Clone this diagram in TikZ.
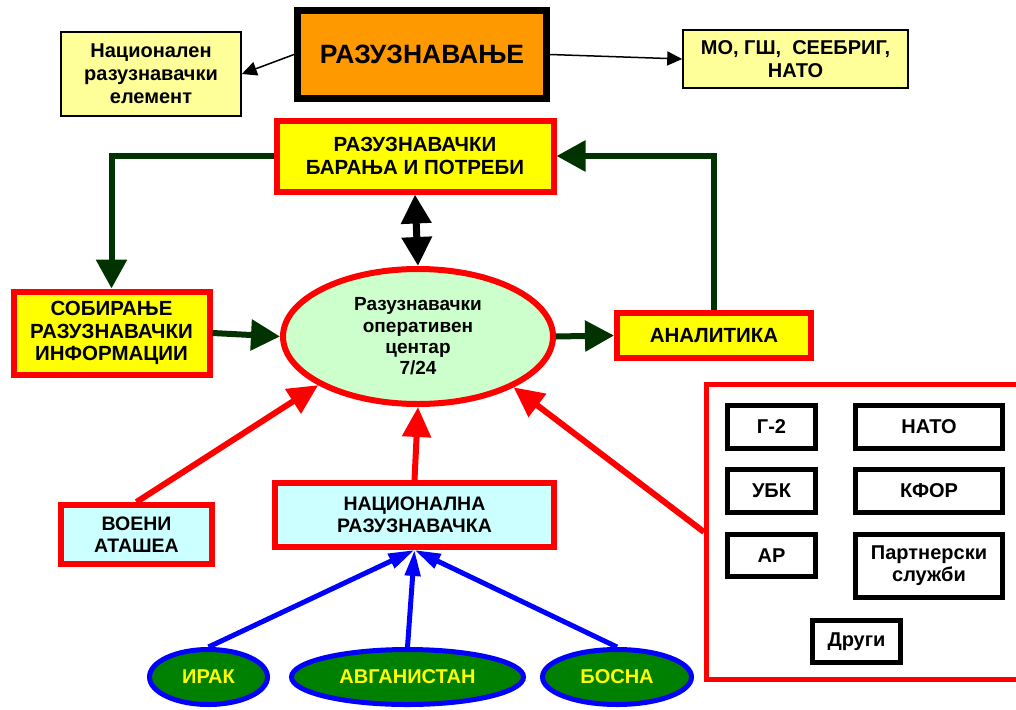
\documentclass[tikz,border=0pt]{standalone}
\usepackage{fontspec}
\setmainfont{Liberation Sans}
\usetikzlibrary{arrows.meta,shapes.geometric}
\definecolor{orng}{HTML}{FF9900}
\definecolor{lyel}{HTML}{FFFF99}
\definecolor{yel}{HTML}{FFFF00}
\definecolor{rd}{HTML}{FF0000}
\definecolor{dgrn}{HTML}{003300}
\definecolor{lgrn}{HTML}{CCFFCC}
\definecolor{lcyan}{HTML}{CCFFFF}
\definecolor{grn}{HTML}{008000}
\definecolor{blu}{HTML}{0000FF}
\begin{document}
\begin{tikzpicture}[x=1pt,y=-1pt,
  every node/.style={inner sep=0pt, align=center},
  orgbox/.style={draw=black, line width=7pt, fill=orng, font=\fontsize{26.5}{30}\selectfont\bfseries},
  lybox/.style={draw=black, line width=1.6pt, fill=lyel, font=\fontsize{20}{23}\selectfont\bfseries},
  rybox/.style={draw=rd, line width=6pt, fill=yel, font=\fontsize{20.5}{22.5}\selectfont\bfseries},
  rcbox/.style={draw=rd, line width=6pt, fill=lcyan, font=\fontsize{19.5}{22}\selectfont\bfseries},
  oval/.style={ellipse, draw=rd, line width=6pt, fill=lgrn, minimum width=270pt, minimum height=135pt, font=\fontsize{19}{21.3}\selectfont\bfseries},
  govl/.style={ellipse, draw=blu, line width=5pt, fill=grn, text=yel, minimum height=55pt, font=\fontsize{20}{24}\selectfont\bfseries},
  kbox/.style={draw=black, line width=5pt, fill=white, font=\fontsize{20}{22}\selectfont\bfseries},
  thinarr/.style={draw=black, line width=1.5pt, -{Triangle[length=15pt,width=14pt]}},
  garr/.style={draw=dgrn, line width=6pt, -{Triangle[length=29pt,width=30pt]}},
  dblarr/.style={draw=black, line width=7pt, {Triangle[length=29pt,width=29pt]}-{Triangle[length=29pt,width=29pt]}},
  rarr/.style={draw=rd, line width=6pt, -{Triangle[length=30pt,width=28pt]}},
  barr/.style={draw=blu, line width=5pt, -{Triangle[length=26pt,width=15pt]}}
]
\useasboundingbox (0,0) rectangle (1016,709);
\clip (0,0) rectangle (1016,709);
\fill[white] (0,0) rectangle (1016,709);

% top row
\node[orgbox, minimum width=249pt, minimum height=88pt] (org) at (422,54.5) {РАЗУЗНАВАЊЕ};
\node[lybox, minimum width=180pt, minimum height=84pt] (nre) at (151,74) {Национален\\разузнавачки\\елемент};
\node[lybox, minimum width=225pt, minimum height=58pt] (mo) at (795.5,59) {МО, ГШ,\ \ СЕЕБРИГ,\\НАТО};

% main cycle
\node[rybox, minimum width=277pt, minimum height=71pt] (bp) at (415,156) {РАЗУЗНАВАЧКИ\\БАРАЊА И ПОТРЕБИ};
\node[rybox, minimum width=196pt, minimum height=83pt] (sob) at (111.5,333) {СОБИРАЊЕ\\РАЗУЗНАВАЧКИ\\ИНФОРМАЦИИ};
\node[rybox, minimum width=194pt, minimum height=45pt] (an) at (714,335.5) {АНАЛИТИКА};
\node[oval] (oc) at (418,336.5) {Разузнавачки\\оперативен\\центар\\7/24};

% sources
\node[rcbox, minimum width=151pt, minimum height=59pt] (vo) at (136.5,534.5) {ВОЕНИ\\АТАШЕА};
\node[rcbox, minimum width=279pt, minimum height=64pt] (nat) at (414.5,515) {НАЦИОНАЛНА\\РАЗУЗНАВАЧКА};
\node[govl, minimum width=118pt] (irak) at (208.5,677) {ИРАК};
\node[govl, minimum width=232pt] (avg) at (407.5,677) {АВГАНИСТАН};
\node[govl, minimum width=149pt] (bos) at (617,677) {БОСНА};

% right group
\node[draw=rd, line width=5pt, minimum width=330pt, minimum height=295pt] (rb) at (871.5,532) {};
\node[kbox, minimum width=88pt, minimum height=43pt] (g2) at (771.5,427) {Г-2};
\node[kbox, minimum width=147pt, minimum height=43pt] (nato) at (929,427) {НАТО};
\node[kbox, minimum width=88pt, minimum height=43pt] (ubk) at (771.5,491) {УБК};
\node[kbox, minimum width=147pt, minimum height=43pt] (kfor) at (929,491) {КФОР};
\node[kbox, minimum width=88pt, minimum height=42pt] (ar) at (771.5,555.5) {АР};
\node[kbox, minimum width=147pt, minimum height=63pt] (ps) at (929,566) {Партнерски\\служби};
\node[kbox, minimum width=88pt, minimum height=42pt] (dr) at (856.5,641.5) {Други};

% connectors
\draw[thinarr] (org.west) -- (nre.east);
\draw[thinarr] (org.east) -- (mo.west);
\draw[garr] (bp.west) -| (sob.north);
\draw[garr] (an.north) |- (bp.east);
\draw[garr] (sob.east) -- (oc.west);
\draw[garr] (oc.east) -- (an.west);
\draw[dblarr] (bp.south) -- (oc.north);
\draw[rarr] (vo.north) -- (oc.206.8);
\draw[rarr] (nat.north) -- (oc.south);
\draw[rarr] (rb.west) -- (oc.332.3);
\draw[barr] (irak.north) -- (nat.south);
\draw[barr] (avg.north) -- (nat.south);
\draw[barr] (bos.north) -- (nat.south);
\end{tikzpicture}
\end{document}
